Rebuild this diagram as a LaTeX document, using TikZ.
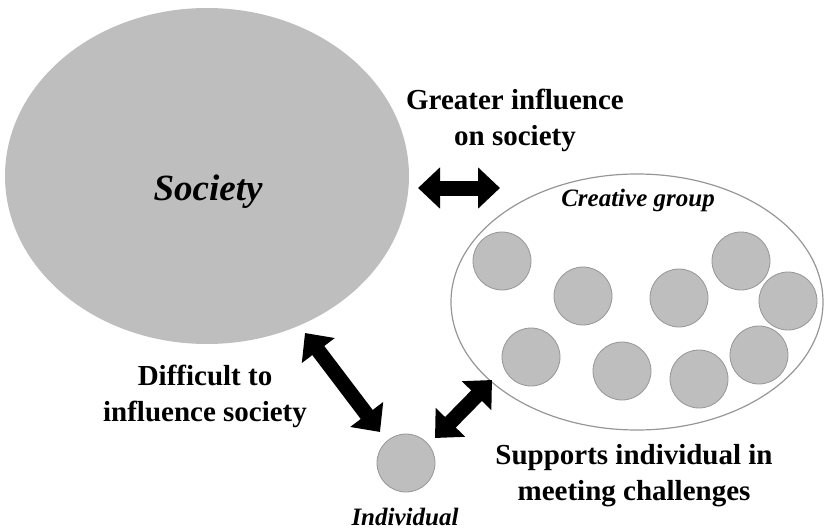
\documentclass[tikz,border=0pt]{standalone}
\usepackage{fontspec}
\setmainfont{Liberation Serif}
\usetikzlibrary{shapes.geometric,arrows.meta}
\definecolor{discgray}{RGB}{190,190,190}
\definecolor{rimgray}{RGB}{150,150,150}

\begin{document}
\begin{tikzpicture}[x=1pt, y=-1pt,
  soc/.style={ellipse, fill=discgray, inner sep=0pt},
  grp/.style={ellipse, draw=rimgray, line width=1.2pt, inner sep=0pt},
  member/.style={circle, fill=discgray, draw=rimgray, line width=0.8pt, minimum size=58pt, inner sep=0pt},
  lbl/.style={font=\bfseries\fontsize{29}{36}\selectfont, align=center},
  tag/.style={font=\bfseries\itshape\fontsize{25}{29}\selectfont},
  dbl/.style={line width=15pt, {Triangle[length=22pt,width=40pt]}-{Triangle[length=22pt,width=40pt]}}
]
\useasboundingbox (0,0) rectangle (824,532);

% --- Society ---
\node[soc, minimum width=404pt, minimum height=336pt] (society) at (207,176) {};
\node[tag, font=\bfseries\itshape\fontsize{37}{42}\selectfont] (societyL) at (208,192) {Society};

% --- Creative group ---
\node[grp, minimum width=372pt, minimum height=256pt] (group) at (637,302) {};
\node[tag] (groupL) at (638,200) {Creative group};

\node[member] (g1) at (502,261) {};
\node[member] (g2) at (583,296) {};
\node[member] (g3) at (679,298) {};
\node[member] (g4) at (741,261) {};
\node[member] (g5) at (788,301) {};
\node[member] (g6) at (531,357) {};
\node[member] (g7) at (622,371) {};
\node[member] (g8) at (699,379) {};
\node[member] (g9) at (759,355) {};

% --- Individual ---
\node[member] (indiv) at (406,463) {};
\node[tag] (indivL) at (405,517) {Individual};

% --- arrows ---
\coordinate (a1) at (418,188);
\coordinate (a2) at (500,188);
\coordinate (b1) at (305,333);
\coordinate (b2) at (380,432);
\coordinate (c1) at (435,438);
\coordinate (c2) at (492,380);

\draw[dbl] (a1) -- (a2);
\draw[dbl] (b1) -- (b2);
\draw[dbl] (c1) -- (c2);

% --- labels ---
\node[lbl] (greater) at (515,120) {Greater influence\\on society};
\node[lbl] (difficult) at (205,396) {Difficult to\\influence society};
\node[lbl] (supports) at (634,476) {Supports individual in\\meeting challenges};

\end{tikzpicture}
\end{document}
